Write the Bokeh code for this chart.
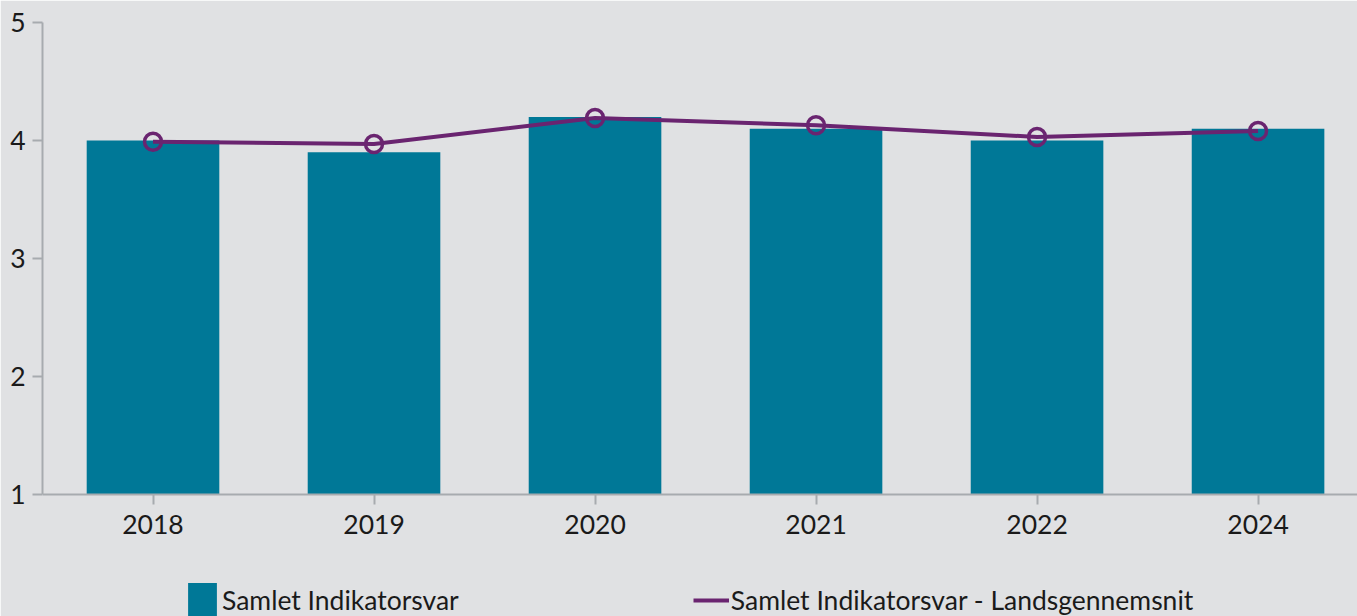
from bokeh.plotting import figure
from bokeh.models import Range1d, FixedTicker, Legend, LegendItem, ColumnDataSource
from bokeh.embed import file_html
from bokeh.resources import INLINE

years = ["2018", "2019", "2020", "2021", "2022", "2024"]
samlet = [4.0, 3.9, 4.2, 4.1, 4.0, 4.1]
landsgennemsnit = [3.99, 3.97, 4.19, 4.13, 4.03, 4.08]
y_ticks = [1, 2, 3, 4, 5]
series_names = ["Samlet Indikatorsvar", "Samlet Indikatorsvar - Landsgennemsnit"]

BG = "#e0e1e3"
TEAL = "#007897"
PURPLE = "#6a2470"
AXIS = "#a7abaf"
TXT = "#1a1a1a"
FONT = "Lato"
FS = "26.5px"

Y_MIN, Y_MAX = 1, 5
# extra room below the value axis (in data units) for the x labels and legend
Y_VIEW_BOTTOM = Y_MIN - 122 / 118

idx = list(range(len(years)))
src = ColumnDataSource(dict(x=idx, year=years, samlet=samlet, lands=landsgennemsnit))

p = figure(width=1357, height=616, output_backend="svg", toolbar_location=None,
           x_range=Range1d(-0.5, 5.45), y_range=Range1d(Y_VIEW_BOTTOM, Y_MAX),
           min_border_left=42, min_border_right=0, min_border_top=22, min_border_bottom=0)
p.background_fill_color = BG
p.border_fill_color = BG
p.outline_line_color = BG
p.outline_line_width = 2
p.xgrid.visible = False
p.ygrid.visible = False

bars = p.vbar(x="x", top="samlet", bottom=Y_MIN, width=0.6, source=src,
              fill_color=TEAL, line_color=None)
line = p.line("x", "lands", source=src, line_color=PURPLE, line_width=4)
p.scatter("x", "lands", source=src, size=17, fill_color=None,
          line_color=PURPLE, line_width=3.5)

for ax in (p.xaxis[0], p.yaxis[0]):
    ax.axis_line_color = AXIS
    ax.axis_line_width = 2
    ax.major_tick_line_color = AXIS
    ax.major_tick_line_width = 2
    ax.major_tick_out = 10
    ax.major_tick_in = 0
    ax.minor_tick_line_color = None
    ax.major_label_text_font = FONT
    ax.major_label_text_font_size = FS
    ax.major_label_text_color = TXT

p.yaxis[0].ticker = FixedTicker(ticks=y_ticks)
p.yaxis[0].bounds = (Y_MIN, Y_MAX)
p.yaxis[0].major_label_standoff = 7
p.xaxis[0].ticker = FixedTicker(ticks=idx)
p.xaxis[0].major_label_overrides = {i: y for i, y in zip(idx, years)}
p.xaxis[0].major_label_standoff = 10
p.xaxis[0].fixed_location = Y_MIN

legend = Legend(items=[LegendItem(label=series_names[0], renderers=[bars]),
                       LegendItem(label=series_names[1], renderers=[line])],
                orientation="horizontal", location=(142, -6),
                glyph_width=36, glyph_height=44, label_standoff=2, spacing=234,
                padding=0, margin=0, border_line_color=None, background_fill_alpha=0,
                label_text_font=FONT, label_text_font_size=FS, label_text_color=TXT)
p.add_layout(legend, "center")

open("out.html", "w").write(file_html(p, INLINE))
